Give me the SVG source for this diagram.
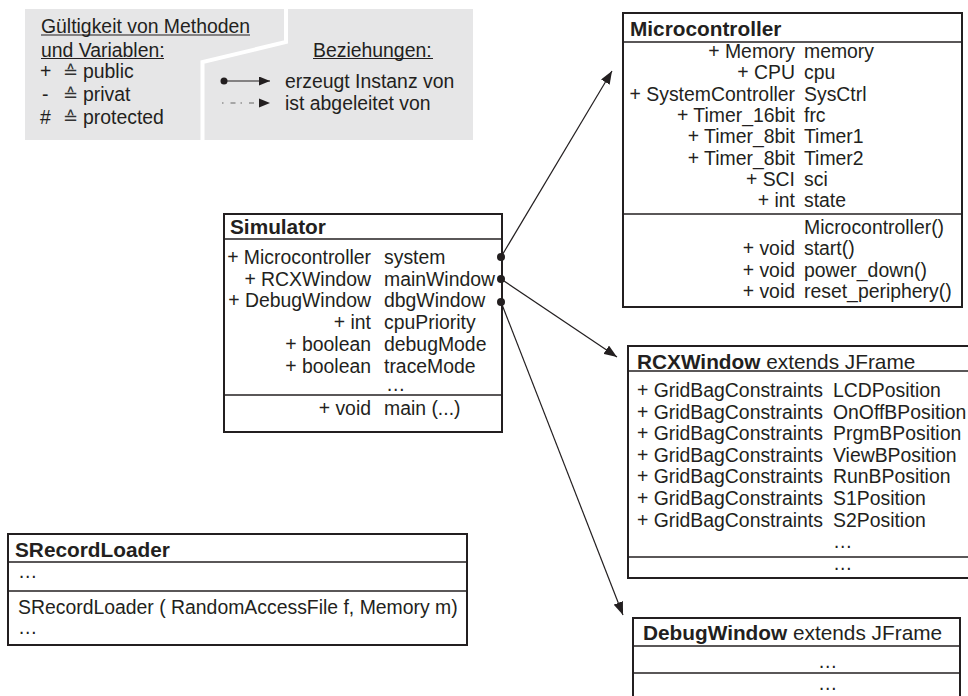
<svg xmlns="http://www.w3.org/2000/svg" width="968" height="696" viewBox="0 0 968 696">
<style>
text{font-family:"Liberation Sans",Arial,"DejaVu Sans",sans-serif;font-size:19.4px;fill:#231f20}
.h{font-weight:bold;font-size:20.8px}
.hr{font-size:20.8px}
.e{text-anchor:end}
.box{fill:#fff;stroke:#231f20;stroke-width:2}
.sep{stroke:#231f20;stroke-width:1.5;fill:none}
.ul{stroke:#231f20;stroke-width:1.2}
.con{stroke:#231f20;stroke-width:1.2;fill:none}
.eq{font-family:"DejaVu Sans",sans-serif;font-size:18px;fill:#333}
</style>
<defs>
<marker id="ah" markerUnits="userSpaceOnUse" markerWidth="13" markerHeight="10" refX="13" refY="5" orient="auto">
<path d="M0,0 L13,5 L0,10 z" fill="#231f20"/>
</marker>
<marker id="ahs" markerUnits="userSpaceOnUse" markerWidth="11" markerHeight="9" refX="11" refY="4.5" orient="auto">
<path d="M0,0 L11,4.5 L0,9 z" fill="#231f20"/>
</marker>
</defs>
<rect width="968" height="696" fill="#fff"/>

<g id="legend">
<rect x="25" y="9" width="448" height="131" fill="#e6e6e7"/>
<polyline points="286,7 286,42 202.5,62 202.5,142" fill="none" stroke="#fff" stroke-width="4"/>
<text x="41" y="33">Gültigkeit von Methoden</text>
<line class="ul" x1="41" y1="35" x2="250" y2="35"/>
<text x="41" y="56.5">und Variablen:</text>
<line class="ul" x1="41" y1="58.5" x2="164" y2="58.5"/>
<text x="40" y="78">+</text><text class="eq" x="63" y="78">≙</text><text x="83" y="78">public</text>
<text x="42" y="100.5">-</text><text class="eq" x="63" y="100.5">≙</text><text x="83" y="100.5">privat</text>
<text x="40" y="123.5">#</text><text class="eq" x="63" y="123.5">≙</text><text x="83" y="123.5">protected</text>
<text x="313" y="56.5">Beziehungen:</text>
<line class="ul" x1="313" y1="58.5" x2="433" y2="58.5"/>
<circle cx="224" cy="81" r="3.5" fill="#231f20"/>
<line class="con" x1="224" y1="81" x2="270" y2="81" marker-end="url(#ahs)"/>
<line x1="222" y1="103" x2="260" y2="103" stroke="#666" stroke-width="1.2" stroke-dasharray="1.5,7,5,5"/>
<path d="M259,98.5 L270,103 L259,107.5 z" fill="#231f20"/>
<text x="285" y="88">erzeugt Instanz von</text>
<text x="285" y="110">ist abgeleitet von</text>
</g>

<g id="Simulator">
<rect class="box" x="224" y="214" width="278" height="218"/>
<line class="sep" x1="224" y1="239" x2="502" y2="239"/>
<line class="sep" x1="224" y1="395" x2="502" y2="395"/>
<text class="h" x="230" y="234">Simulator</text>
<text class="e" x="371" y="264">+ Microcontroller</text><text x="384" y="264">system</text>
<text class="e" x="371" y="285.7">+ RCXWindow</text><text x="384" y="285.7">mainWindow</text>
<text class="e" x="371" y="307.4">+ DebugWindow</text><text x="384" y="307.4">dbgWindow</text>
<text class="e" x="371" y="329.1">+ int</text><text x="384" y="329.1">cpuPriority</text>
<text class="e" x="371" y="350.8">+ boolean</text><text x="384" y="350.8">debugMode</text>
<text class="e" x="371" y="372.5">+ boolean</text><text x="384" y="372.5">traceMode</text>
<text x="386" y="391">…</text>
<text class="e" x="371" y="415">+ void</text><text x="384" y="415">main (...)</text>
</g>

<g id="Microcontroller">
<rect class="box" x="623" y="13" width="339" height="294"/>
<line class="sep" x1="623" y1="42" x2="962" y2="42"/>
<line class="sep" x1="623" y1="214" x2="962" y2="214"/>
<text class="h" x="630" y="36">Microcontroller</text>
<text class="e" x="795" y="58">+ Memory</text><text x="804" y="58">memory</text>
<text class="e" x="795" y="79.3">+ CPU</text><text x="804" y="79.3">cpu</text>
<text class="e" x="795" y="100.6">+ SystemController</text><text x="804" y="100.6">SysCtrl</text>
<text class="e" x="795" y="121.9">+ Timer_16bit</text><text x="804" y="121.9">frc</text>
<text class="e" x="795" y="143.2">+ Timer_8bit</text><text x="804" y="143.2">Timer1</text>
<text class="e" x="795" y="164.5">+ Timer_8bit</text><text x="804" y="164.5">Timer2</text>
<text class="e" x="795" y="185.8">+ SCI</text><text x="804" y="185.8">sci</text>
<text class="e" x="795" y="207.1">+ int</text><text x="804" y="207.1">state</text>
<text x="804" y="234">Microcontroller()</text>
<text class="e" x="795" y="255.3">+ void</text><text x="804" y="255.3">start()</text>
<text class="e" x="795" y="276.6">+ void</text><text x="804" y="276.6">power_down()</text>
<text class="e" x="795" y="297.9">+ void</text><text x="804" y="297.9">reset_periphery()</text>
</g>

<g id="RCXWindow">
<rect class="box" x="628" y="346" width="345" height="232"/>
<line class="sep" x1="628" y1="371" x2="970" y2="371"/>
<line class="sep" x1="628" y1="557" x2="970" y2="557"/>
<text x="637" y="369"><tspan class="h">RCXWindow</tspan><tspan class="hr"> extends JFrame</tspan></text>
<text x="637" y="397">+ GridBagConstraints</text><text x="833" y="397">LCDPosition</text>
<text x="637" y="418.6">+ GridBagConstraints</text><text x="833" y="418.6">OnOffBPosition</text>
<text x="637" y="440.2">+ GridBagConstraints</text><text x="833" y="440.2">PrgmBPosition</text>
<text x="637" y="461.8">+ GridBagConstraints</text><text x="833" y="461.8">ViewBPosition</text>
<text x="637" y="483.4">+ GridBagConstraints</text><text x="833" y="483.4">RunBPosition</text>
<text x="637" y="505">+ GridBagConstraints</text><text x="833" y="505">S1Position</text>
<text x="637" y="526.6">+ GridBagConstraints</text><text x="833" y="526.6">S2Position</text>
<text x="833" y="548">…</text>
<text x="833" y="570">…</text>
</g>

<g id="DebugWindow">
<rect class="box" x="633" y="618" width="327" height="90"/>
<line class="sep" x1="633" y1="646" x2="960" y2="646"/>
<line class="sep" x1="633" y1="673" x2="960" y2="673"/>
<text x="643" y="640"><tspan class="h">DebugWindow</tspan><tspan class="hr"> extends JFrame</tspan></text>
<text x="818" y="668">…</text>
<text x="818" y="690">…</text>
</g>

<g id="SRecordLoader">
<rect class="box" x="8" y="534" width="459" height="111"/>
<line class="sep" x1="8" y1="562" x2="467" y2="562"/>
<line class="sep" x1="8" y1="591" x2="467" y2="591"/>
<text class="h" x="15" y="557">SRecordLoader</text>
<text x="18" y="578">…</text>
<text x="18" y="614">SRecordLoader ( RandomAccessFile f, Memory m)</text>
<text x="18" y="634">…</text>
</g>

<g id="connectors">
<line class="con" x1="501" y1="257" x2="612" y2="71" marker-end="url(#ah)"/>
<line class="con" x1="501" y1="279" x2="617" y2="357" marker-end="url(#ah)"/>
<line class="con" x1="501" y1="302" x2="623" y2="615" marker-end="url(#ah)"/>
<circle cx="501" cy="257" r="4" fill="#231f20"/>
<circle cx="501" cy="279" r="4" fill="#231f20"/>
<circle cx="501" cy="302" r="4" fill="#231f20"/>
</g>
</svg>
